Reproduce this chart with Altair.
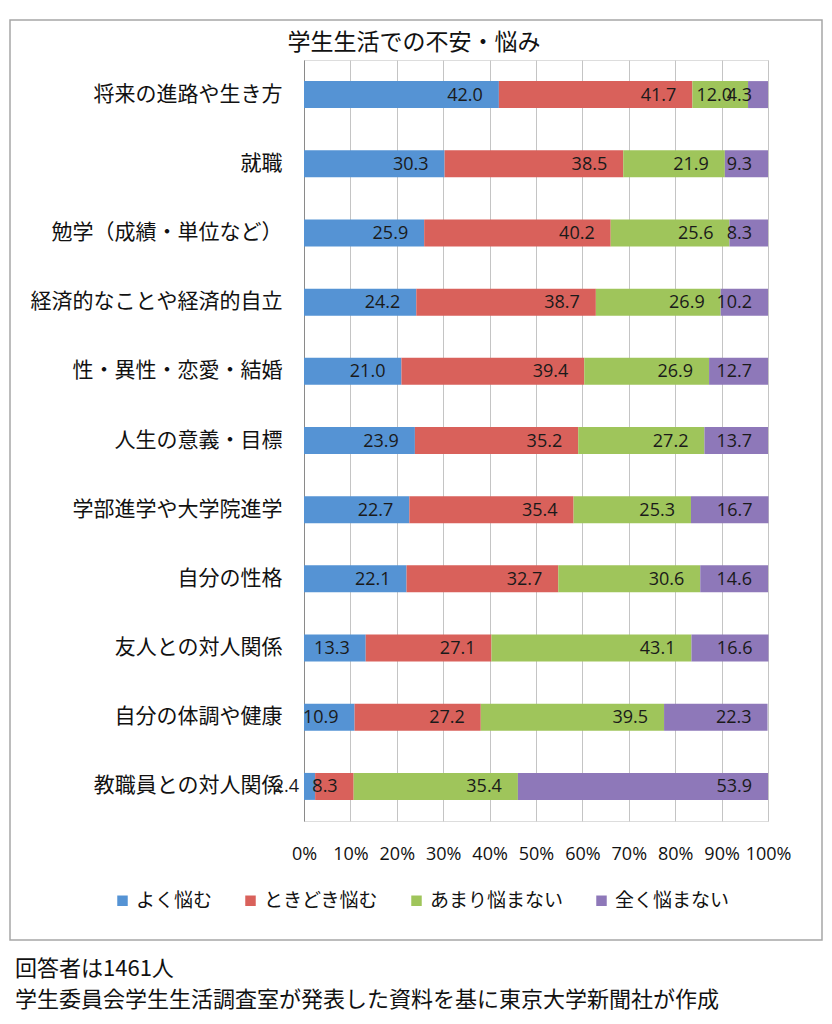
import altair as alt
import pandas as pd

categories = [
    "将来の進路や生き方",
    "就職",
    "勉学（成績・単位など）",
    "経済的なことや経済的自立",
    "性・異性・恋愛・結婚",
    "人生の意義・目標",
    "学部進学や大学院進学",
    "自分の性格",
    "友人との対人関係",
    "自分の体調や健康",
    "教職員との対人関係",
]
series = ["よく悩む", "ときどき悩む", "あまり悩まない", "全く悩まない"]
yoku = [42.0, 30.3, 25.9, 24.2, 21.0, 23.9, 22.7, 22.1, 13.3, 10.9, 2.4]
tokidoki = [41.7, 38.5, 40.2, 38.7, 39.4, 35.2, 35.4, 32.7, 27.1, 27.2, 8.3]
amari = [12.0, 21.9, 25.6, 26.9, 26.9, 27.2, 25.3, 30.6, 43.1, 39.5, 35.4]
mattaku = [4.3, 9.3, 8.3, 10.2, 12.7, 13.7, 16.7, 14.6, 16.6, 22.3, 53.9]
colors = ["#5593d4", "#d9615b", "#9fc55b", "#8e78b9"]
tick_values = [0, 10, 20, 30, 40, 50, 60, 70, 80, 90, 100]
title_text = "学生生活での不安・悩み"
footer_lines = ["回答者は1461人", "学生委員会学生生活調査室が発表した資料を基に東京大学新聞社が作成"]

rows = []
for s_i, (s, vals) in enumerate(zip(series, [yoku, tokidoki, amari, mattaku])):
    for c, v in zip(categories, vals):
        rows.append({"category": c, "series": s, "value": v, "order": s_i})
df = pd.DataFrame(rows)

JP = "Noto Sans CJK JP"
NUM = "Open Sans"

base = alt.Chart(df).transform_stack(
    stack="value", as_=["x0", "x1"], groupby=["category"],
    sort=[alt.SortField("order", order="ascending")],
)

y_enc = alt.Y(
    "category:N", sort=categories, title=None,
    scale=alt.Scale(paddingInner=0.61, paddingOuter=0.305),
    axis=alt.Axis(labelFont=JP, labelFontSize=21, labelColor="#111111",
                  labelPadding=22, ticks=False, domain=True, domainColor="#8a8a8a",
                  labelLimit=300),
)

bars = base.mark_bar().encode(
    x=alt.X("x0:Q", scale=alt.Scale(domain=[0, 100], nice=False), title=None,
            axis=alt.Axis(values=tick_values, labelExpr="datum.value + '%'",
                          labelFont=NUM, labelFontSize=18, labelColor="#111111",
                          labelPadding=24, ticks=False, domain=False,
                          labelOverlap=False, labelFlush=False,
                          grid=True, gridColor="#c4c4c4", gridWidth=1)),
    x2="x1:Q",
    y=y_enc,
    color=alt.Color("series:N", scale=alt.Scale(domain=series, range=colors),
                    sort=series,
                    legend=alt.Legend(title=None, orient="none", legendX=-191, legendY=831,
                                      direction="horizontal", columns=4,
                                      symbolType="square", symbolSize=110,
                                      symbolStrokeWidth=0, symbolOpacity=1,
                                      labelFont=JP, labelFontSize=19, labelColor="#111111",
                                      columnPadding=28, labelOffset=4)),
)

labels = base.mark_text(align="right", baseline="middle", dx=-16, dy=1,
                        font=NUM, fontSize=18, color="#1a1a1a").encode(
    x=alt.X("x1:Q"),
    y=alt.Y("category:N", sort=categories),
    text=alt.Text("value:Q", format=".1f"),
)

frame_df = pd.DataFrame({"k": [0]})
frame = alt.Chart(frame_df).mark_rect(fill="white", fillOpacity=0, stroke="#a6a6a6",
                                      strokeWidth=1.5).encode(
    x=alt.value(-294), x2=alt.value(518), y=alt.value(-40), y2=alt.value(880)
)

title = alt.Chart(frame_df).mark_text(text=title_text, align="center", baseline="middle",
                                      font=JP, fontSize=23, color="#111111").encode(
    x=alt.value(110), y=alt.value(-17)
)

footer1 = alt.Chart(frame_df).mark_text(text=footer_lines[0], align="left", baseline="middle",
                                        font=JP, fontSize=22, color="#111111").encode(
    x=alt.value(-289), y=alt.value(909)
)
footer2 = alt.Chart(frame_df).mark_text(text=footer_lines[1], align="left", baseline="middle",
                                        font=JP, fontSize=22, color="#111111").encode(
    x=alt.value(-289), y=alt.value(940)
)

chart = alt.layer(frame, title, bars, labels, footer1, footer2).properties(
    width=464, height=761,
    padding={"left": 296, "top": 52, "right": 56, "bottom": 195},
    autosize=alt.AutoSizeParams(type="none"),
).configure_view(stroke=None).configure(background="white")

chart.save("out.html", embed_options={"renderer": "svg", "actions": False})
